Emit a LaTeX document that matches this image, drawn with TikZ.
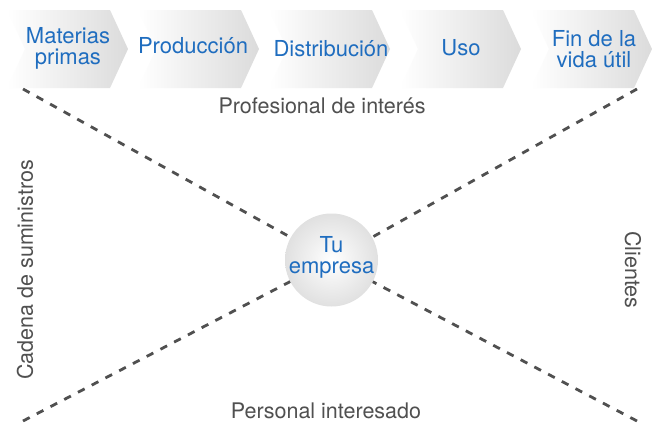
\documentclass[tikz,border=0pt]{standalone}
\usepackage{fontspec}
\setmainfont{TeX Gyre Heros}
\definecolor{txtblue}{HTML}{1F6DBF}
\definecolor{txtgray}{HTML}{505050}
\definecolor{dashgray}{HTML}{505050}
\tikzset{
  chev/.style={shading=axis, left color=white, right color=black!14, draw=none},
  bluetxt/.style={text=txtblue, align=center, font=\fontsize{22}{21}\selectfont, inner sep=0pt},
  graytxt/.style={text=txtgray, font=\fontsize{21.5}{22}\selectfont, inner sep=0pt},
  dashline/.style={draw=dashgray, line width=2.8pt, dash pattern=on 7.5pt off 8pt},
}
\begin{document}
\begin{tikzpicture}[x=1pt,y=-1pt]
\useasboundingbox (0,0) rectangle (653,423);
\fill[white] (0,0) rectangle (653,423);
% chevrons
\foreach \i in {0,...,4}{
  \pgfmathsetmacro{\L}{7+131*\i}
  \shade[chev] (\L,10) -- (\L+103,10) -- (\L+121,49) -- (\L+103,88) -- (\L,88) -- (\L+18,49) -- cycle;
}
\node[bluetxt] (c1) at (68,48) {Materias\\primas};
\node[bluetxt] (c2) at (193,46) {Producción};
\node[bluetxt] (c3) at (331,49) {Distribución};
\node[bluetxt] (c4) at (461,48) {Uso};
\node[bluetxt] (c5) at (594,49) {Fin de la\\vida útil};
% circle
\node[circle, minimum size=93pt, inner sep=0pt, shading=radial, inner color=white, outer color=black!12] (circ) at (331.5,260) {};
\node[bluetxt] (tu) at (331.5,257) {Tu\\empresa};
% corner coordinates
\coordinate (tl) at (23,89);
\coordinate (tr) at (637,89);
\coordinate (bl) at (23,421);
\coordinate (br) at (637,421);
\draw[dashline] (tl) -- (circ);
\draw[dashline] (tr) -- (circ);
\draw[dashline] (bl) -- (circ);
\draw[dashline] (br) -- (circ);
% labels
\node[graytxt] (prof) at (322,106) {Profesional de interés};
\node[graytxt] (pers) at (326,411) {Personal interesado};
\node[graytxt, rotate=90] (cad) at (25,270) {Cadena de suministros};
\node[graytxt, rotate=-90] (cli) at (633,270) {Clientes};
\end{tikzpicture}
\end{document}
